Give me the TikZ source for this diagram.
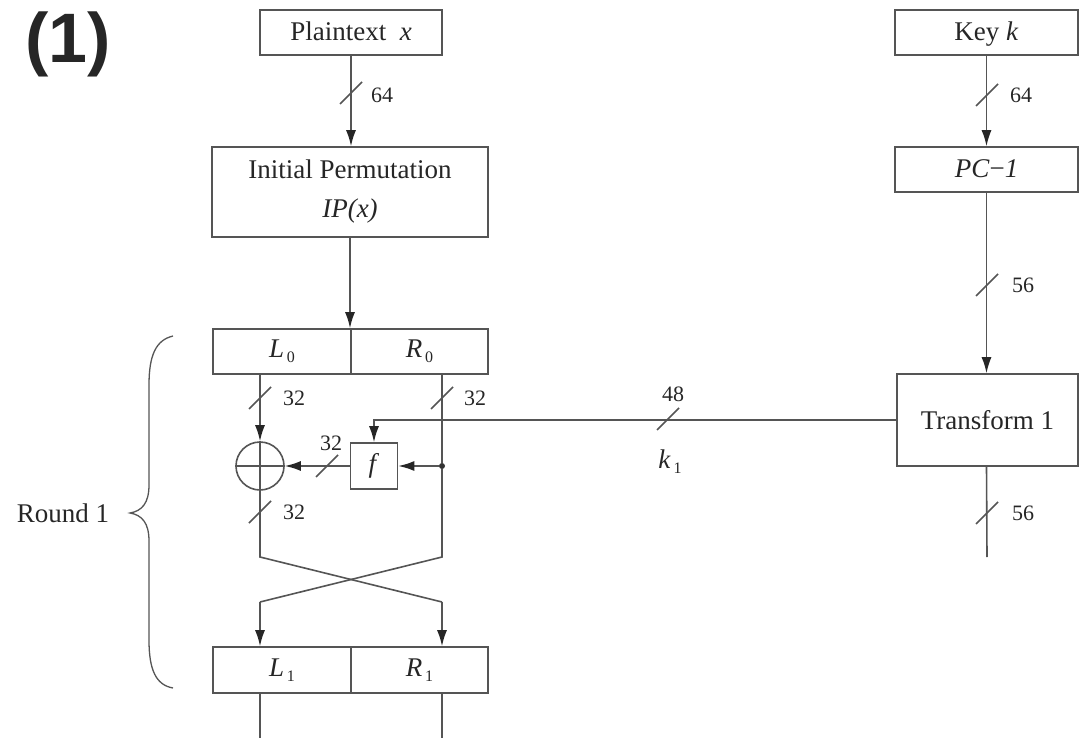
\documentclass[tikz,border=0pt]{standalone}
\usepackage{fontspec}
\setmainfont{Liberation Serif}
\newfontfamily\hdfont{Liberation Sans}
\usetikzlibrary{arrows.meta}
\definecolor{linec}{HTML}{555555}
\definecolor{textc}{HTML}{262626}
\newcommand{\idx}[1]{\raisebox{-5pt}{\fontsize{16}{16}\selectfont\,#1}}
\tikzset{
  box/.style={draw=linec, line width=1.6pt, rectangle, inner sep=0pt, text=textc,
              align=center, font=\fontsize{27}{39}\selectfont},
  wire/.style={draw=linec, line width=1.6pt},
  arr/.style={wire, -{Latex[length=16pt,width=10pt,color=black!85]}},
  num/.style={inner sep=0pt, text=textc, font=\fontsize{22}{22}\selectfont},
  lbl/.style={inner sep=0pt, text=textc, font=\fontsize{27}{27}\selectfont}
}
\begin{document}
\begin{tikzpicture}[x=1pt,y=-1pt]
\useasboundingbox (0,0) rectangle (1079,738);

% title fragment
\node[inner sep=0pt, text=black!85, font=\hdfont\bfseries\fontsize{70}{70}\selectfont] (title) at (68,44) {(1)};

% left column boxes
\node[box, minimum width=182pt, minimum height=45pt] (plain) at (351,32.5) {Plaintext~~\textit{x}\strut};
\node[box, minimum width=276pt, minimum height=90pt] (ip) at (350,192) {Initial Permutation\\\textit{IP(x)}};
\node[box, minimum width=138pt, minimum height=45pt] (L0) at (282,351.5) {\textit{L}\idx{0}};
\node[box, minimum width=137pt, minimum height=45pt] (R0) at (419.5,351.5) {\textit{R}\idx{0}};
\node[box, minimum width=138pt, minimum height=46pt] (L1) at (282,670) {\textit{L}\idx{1}};
\node[box, minimum width=137pt, minimum height=46pt] (R1) at (419.5,670) {\textit{R}\idx{1}};

\node[circle, draw=linec, line width=1.6pt, minimum size=48pt, inner sep=0pt] (xor) at (260,466) {};
\draw[wire] (xor.north) -- (xor.south) (xor.west) -- (xor.east);
\node[box, minimum width=47pt, minimum height=46pt] (f) at (374,466) {\textit{f}};
\node[circle, fill=black!80, inner sep=0pt, minimum size=6pt] (dot) at (442,466) {};

% right column boxes
\node[box, minimum width=183pt, minimum height=45pt] (key) at (986.5,32.5) {Key \textit{k}\strut};
\node[box, minimum width=183pt, minimum height=45pt] (pc1) at (986.5,169.5) {\textit{PC}−\textit{1}\strut};
\node[box, minimum width=181pt, minimum height=92pt] (t1) at (987.5,420) {Transform 1};

% coordinates
\coordinate (cl1) at (260,557);
\coordinate (cr1) at (442,557);
\coordinate (cl2) at (260,602);
\coordinate (cr2) at (442,602);
\coordinate (endL) at (260,738);
\coordinate (endR) at (442,738);
\coordinate (kend) at (987,557);

% left connectors
\draw[arr] (plain.south) -- (plain.south |- ip.north);
\draw[arr] (ip.south) -- (ip.south |- L0.north);
\draw[arr] (L0.south -| xor.north) -- (xor.north);
\draw[wire] (R0.south -| dot) -- (dot);
\draw[arr] (dot) -- (f.east);
\draw[arr] (f.west) -- (xor.east);
\draw[wire] (xor.south) -- (cl1) -- (cr2);
\draw[arr] (cr2) -- (cr2 |- R1.north);
\draw[wire] (dot) -- (cr1) -- (cl2);
\draw[arr] (cl2) -- (cl2 |- L1.north);
\draw[wire] (L1.south -| endL) -- (endL);
\draw[wire] (R1.south -| endR) -- (endR);

% key path
\draw[arr] (key.south) -- (key.south |- pc1.north);
\draw[arr] (pc1.south) -- (pc1.south |- t1.north);
\draw[wire] (pc1.south |- t1.south) -- (kend);
\draw[arr] (t1.west) -- (t1.west -| f.north) -- (f.north);

% bit-width slashes
\foreach \p in {(351,93),(260,398),(442,398),(260,512),(327,466),(668,419),(987,95),(987,285),(987,513)}
  \draw[wire, shift={\p}] (-11,11) -- (11,-11);

% labels
\node[num] (n64a) at (382,95) {64};
\node[num] (n32a) at (294,398) {32};
\node[num] (n32b) at (475,398) {32};
\node[num] (n32c) at (331,443) {32};
\node[num] (n32d) at (294,512) {32};
\node[num] (n48) at (673,394) {48};
\node[lbl] (k1) at (670,462) {\textit{k}\idx{1}};
\node[num] (n64b) at (1021,95) {64};
\node[num] (n56a) at (1023,285) {56};
\node[num] (n56b) at (1023,513) {56};

% brace and round label
\draw[wire, line width=1.3pt] (173,336) .. controls (156,340) and (149,355) .. (149,385)
  -- (149,485) .. controls (149,503) and (142,511) .. (130,513)
  .. controls (142,515) and (149,523) .. (149,541)
  -- (149,640) .. controls (149,670) and (156,685) .. (173,688);
\node[lbl] (round) at (63,513) {Round 1};
\end{tikzpicture}
\end{document}
